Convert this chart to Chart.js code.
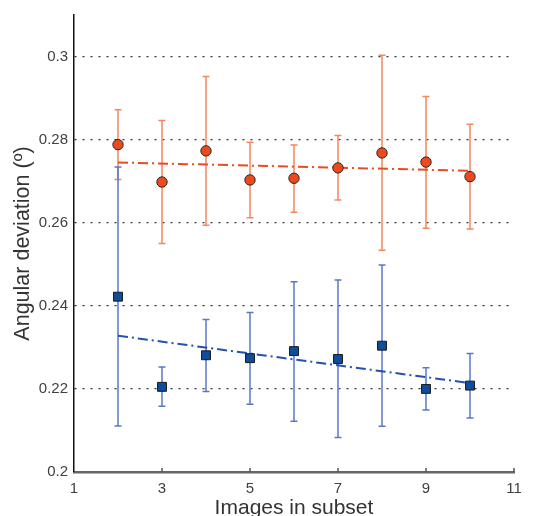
<!DOCTYPE html>
<html>
<head>
<meta charset="utf-8">
<script src="https://cdn.jsdelivr.net/npm/chart.js@4"></script>
<style>
  html, body { margin: 0; padding: 0; background: #fff; }
  #wrap { width: 542px; height: 516px; position: relative; }
</style>
</head>
<body>
<div id="wrap"><canvas id="c" width="542" height="516"></canvas></div>
<script>
const xValues = [2, 3, 4, 5, 6, 7, 8, 9, 10];
const orangeMean  = [0.2788, 0.2698, 0.2773, 0.2703, 0.2707, 0.2732, 0.2768, 0.2746, 0.2711];
const orangeUpper = [0.2872, 0.2846, 0.2952, 0.2794, 0.2787, 0.2810, 0.3003, 0.2904, 0.2837];
const orangeLower = [0.2704, 0.2550, 0.2594, 0.2612, 0.2625, 0.2655, 0.2534, 0.2587, 0.2585];
const blueMean  = [0.2422, 0.2205, 0.2281, 0.2274, 0.2291, 0.2272, 0.2304, 0.2200, 0.2208];
const blueUpper = [0.2734, 0.2253, 0.2367, 0.2384, 0.2458, 0.2462, 0.2498, 0.2251, 0.2285];
const blueLower = [0.2111, 0.2158, 0.2194, 0.2163, 0.2122, 0.2083, 0.2110, 0.2149, 0.2130];
const fitX = [2, 10];
const orangeFit = [0.2745, 0.2725];
const blueFit = [0.2328, 0.2214];
const xTicks = [1, 3, 5, 7, 9, 11];
const yTicks = [0.2, 0.22, 0.24, 0.26, 0.28, 0.3];

const FONT = "'Liberation Sans', Arial, sans-serif";

const pts = (xs, ys) => xs.map((x, i) => ({ x: x, y: ys[i] }));

const errorBars = {
  id: 'errorBars',
  beforeDatasetsDraw(chart) {
    const { ctx, scales: { x, y } } = chart;
    const sets = [
      { lo: orangeLower, hi: orangeUpper, color: '#F4875C' },
      { lo: blueLower, hi: blueUpper, color: '#5A78C8' }
    ];
    ctx.save();
    ctx.lineWidth = 1.5;
    sets.forEach(s => {
      ctx.strokeStyle = s.color;
      xValues.forEach((xv, i) => {
        const px = x.getPixelForValue(xv);
        const pl = y.getPixelForValue(s.lo[i]);
        const ph = y.getPixelForValue(s.hi[i]);
        ctx.beginPath();
        ctx.moveTo(px, pl); ctx.lineTo(px, ph);
        ctx.moveTo(px - 3.5, pl); ctx.lineTo(px + 3.5, pl);
        ctx.moveTo(px - 3.5, ph); ctx.lineTo(px + 3.5, ph);
        ctx.stroke();
      });
    });
    ctx.restore();
  },
  afterDraw(chart) {
    const { ctx, scales: { x, y } } = chart;
    ctx.save();
    ctx.strokeStyle = '#555';
    ctx.lineWidth = 1.5;
    xTicks.forEach(v => {
      if (v === 1) return;
      const px = x.getPixelForValue(v);
      ctx.beginPath();
      ctx.moveTo(px, y.bottom);
      ctx.lineTo(px, y.bottom - 4);
      ctx.stroke();
    });
    ctx.restore();
  }
};

new Chart(document.getElementById('c'), {
  type: 'scatter',
  plugins: [errorBars],
  data: {
    datasets: [
      {
        type: 'line', data: pts(fitX, orangeFit), borderColor: '#EA4B1E', borderWidth: 2,
        borderDash: [10, 4, 2, 4], pointRadius: 0, fill: false, order: 3
      },
      {
        type: 'line', data: pts(fitX, blueFit), borderColor: '#2350B4', borderWidth: 2,
        borderDash: [10, 4, 2, 4], pointRadius: 0, fill: false, order: 3
      },
      {
        data: pts(xValues, orangeMean), backgroundColor: '#EC4A1C', borderColor: '#2a2a2a',
        borderWidth: 1, pointRadius: 5.2, pointStyle: 'circle', order: 1
      },
      {
        data: pts(xValues, blueMean), backgroundColor: '#0E4C9C', borderColor: '#1a1a1a',
        borderWidth: 1, pointRadius: 6.3, pointStyle: 'rect', order: 1
      }
    ]
  },
  options: {
    responsive: false,
    animation: false,
    events: [],
    layout: { padding: { top: 15, right: 28, left: 0, bottom: 0 } },
    plugins: { legend: { display: false }, tooltip: { enabled: false } },
    scales: {
      x: {
        type: 'linear', min: 1, max: 11,
        afterBuildTicks: s => { s.ticks = xTicks.map(v => ({ value: v })); },
        afterFit: s => { s.height = 44; },
        grid: { color: 'transparent', drawTicks: false },
        border: { color: '#666', width: 2.5 },
        ticks: { padding: 8, color: '#404040', font: { family: FONT, size: 15 }, callback: v => String(v) },
        title: { display: true, text: 'Images in subset', color: '#333', font: { family: FONT, size: 21, lineHeight: 0.75 }, padding: { top: 0, bottom: 0 } }
      },
      y: {
        min: 0.2, max: 0.31,
        afterBuildTicks: s => { s.ticks = yTicks.map(v => ({ value: v })); },
        afterFit: s => { s.width = 74; },
        grid: {
          drawTicks: false,
          color: c => (c.tick && Math.abs(c.tick.value - 0.2) < 1e-9) ? 'transparent' : '#333',
          lineWidth: 1.2
        },
        border: { color: '#111', width: 1.5, dash: [2, 6] },
        ticks: { padding: 6, color: '#404040', font: { family: FONT, size: 15 }, callback: v => String(+v.toFixed(2)) },
        title: { display: true, text: 'Angular deviation (º)', color: '#333', font: { family: FONT, size: 21.5, lineHeight: 1.2 }, padding: { top: 10, bottom: 0 } }
      }
    }
  }
});
</script>
</body>
</html>
